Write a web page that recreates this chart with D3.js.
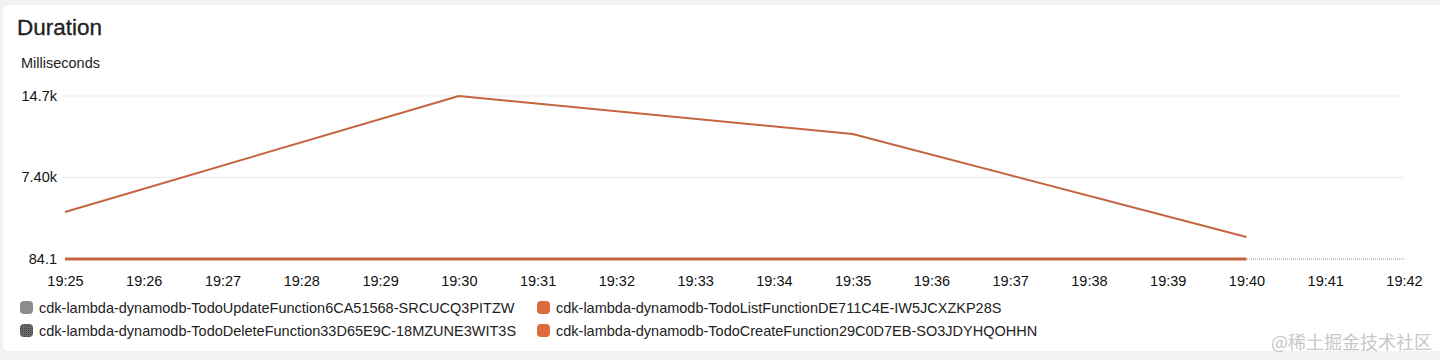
<!DOCTYPE html>
<html>
<head>
<meta charset="utf-8">
<script src="https://cdn.jsdelivr.net/npm/d3@7"></script>
<style>
  body { margin: 0; background: #f2f2f2; font-family: "Liberation Sans", Arial, sans-serif; }
  #chart { width: 1440px; height: 360px; }
</style>
</head>
<body>
<div id="chart"></div>
<script>
// minutes (19:xx) shown on the x axis
const tickMinutes = [25, 26, 27, 28, 29, 30, 31, 32, 33, 34, 35, 36, 37, 38, 39, 40, 41, 42];
const yTicks = [84.1, 7400, 14700];
const yTickLabels = ['84.1', '7.40k', '14.7k'];

// data points every 5 minutes
const pointMinutes = [25, 30, 35, 40];
const updateValues = [];
const deleteValues = [];
const listValues = [84.1, 86, 85, 84.5];
const createValues = [4300, 14700, 11290, 2060];

const seriesNames = [
    'cdk-lambda-dynamodb-TodoUpdateFunction6CA51568-SRCUCQ3PITZW',
    'cdk-lambda-dynamodb-TodoListFunctionDE711C4E-IW5JCXZKP28S',
    'cdk-lambda-dynamodb-TodoDeleteFunction33D65E9C-18MZUNE3WIT3S',
    'cdk-lambda-dynamodb-TodoCreateFunction29C0D7EB-SO3JDYHQOHHN'
];
const seriesValues = [updateValues, listValues, deleteValues, createValues];
const swatchColors = ['#8c8c8c', '#dc6a3c', '#5a5a5a', '#dc6a3c'];
const lineColors = ['#8c8c8c', '#c4653f', '#5a5a5a', '#c4653f'];

(function () {
    let width = 1440, height = 360,
        margins = { left: 65, right: 36, top: 96, bottom: 101 },
        domainWidth = width - margins.left - margins.right,
        domainHeight = height - margins.top - margins.bottom,
        font = '"Liberation Sans", Arial, sans-serif';

    let svg = d3.select('#chart').append('svg')
        .attr('width', width).attr('height', height)
        .style('font-family', font);

    let defs = svg.append('defs');
    let pat = defs.append('pattern').attr('id', 'dots')
        .attr('width', 2).attr('height', 2).attr('patternUnits', 'userSpaceOnUse');
    pat.append('rect').attr('width', 2).attr('height', 2).attr('fill', '#6a6a6a');
    pat.append('rect').attr('width', 1).attr('height', 1).attr('fill', '#444');

    // card
    svg.append('rect').attr('x', 3).attr('y', 5).attr('width', 1444).attr('height', 346)
        .attr('rx', 5).attr('fill', '#fff');

    svg.append('text').attr('x', 17).attr('y', 35).text('Duration')
        .attr('font-size', 22.5).attr('fill', '#222')
        .attr('stroke', '#222').attr('stroke-width', 0.3);
    svg.append('text').attr('x', 21).attr('y', 68).text('Milliseconds')
        .attr('font-size', 14.5).attr('fill', '#222');

    let x = d3.scaleLinear().domain([25, 42]).range([0, domainWidth]);
    let y = d3.scaleLinear().domain([84.1, 14700]).range([domainHeight, 0]);

    let g = svg.append('g')
        .attr('transform', 'translate(' + margins.left + ',' + margins.top + ')');

    // gridlines
    g.selectAll('.grid').data(yTicks.slice(1)).enter().append('line')
        .attr('x1', -2).attr('x2', domainWidth)
        .attr('y1', d => y(d)).attr('y2', d => y(d))
        .attr('stroke', '#ebebeb').attr('stroke-width', 1);
    g.append('line')
        .attr('x1', 0).attr('x2', domainWidth)
        .attr('y1', domainHeight).attr('y2', domainHeight)
        .attr('stroke', '#c8c8c8').attr('stroke-width', 2).attr('stroke-dasharray', '1,1');

    // y labels
    g.selectAll('.ylab').data(yTicks).enter().append('text')
        .attr('x', -8).attr('y', d => y(d)).attr('dy', '0.35em')
        .attr('text-anchor', 'end').attr('font-size', 14.5).attr('fill', '#111')
        .text((d, i) => yTickLabels[i]);

    // x axis
    let xAxis = d3.axisBottom(x).tickValues(tickMinutes)
        .tickFormat(d => '19:' + d).tickSize(0).tickPadding(17);
    let ax = g.append('g').attr('transform', 'translate(0,' + domainHeight + ')').call(xAxis);
    ax.select('.domain').remove();
    ax.selectAll('text').attr('font-size', 14.5).attr('fill', '#111')
        .style('font-family', font);

    let line = d3.line().x(d => x(d[0])).y(d => y(d[1]));
    seriesValues.forEach(function (vals, i) {
        if (!vals.length) return;
        g.append('path')
            .datum(vals.map((v, j) => [pointMinutes[j], v]))
            .attr('fill', 'none').attr('stroke', lineColors[i])
            .attr('stroke-width', i === 1 ? 3 : 2)
            .attr('stroke-linejoin', 'round')
            .attr('d', line);
    });

    // legend
    let leg = svg.append('g');
    let items = leg.selectAll('g').data(seriesNames).enter().append('g')
        .attr('transform', (d, i) => 'translate(' + (i % 2 === 0 ? 20 : 537) + ',' + (301 + Math.floor(i / 2) * 23) + ')');
    items.append('rect').attr('width', 13).attr('height', 13).attr('rx', 4)
        .attr('fill', (d, i) => i === 2 ? 'url(#dots)' : swatchColors[i]);
    items.append('text').attr('x', 19).attr('y', 11.5)
        .attr('font-size', 14.5).attr('fill', '#222').text(d => d);

    svg.append('text').attr('x', 1432).attr('y', 349).attr('text-anchor', 'end')
        .attr('font-size', 18).attr('fill', '#c8c8c8').text('@稀土掘金技术社区')
        .style('font-family', '"Noto Sans CJK SC", sans-serif');
})();
</script>
</body>
</html>
